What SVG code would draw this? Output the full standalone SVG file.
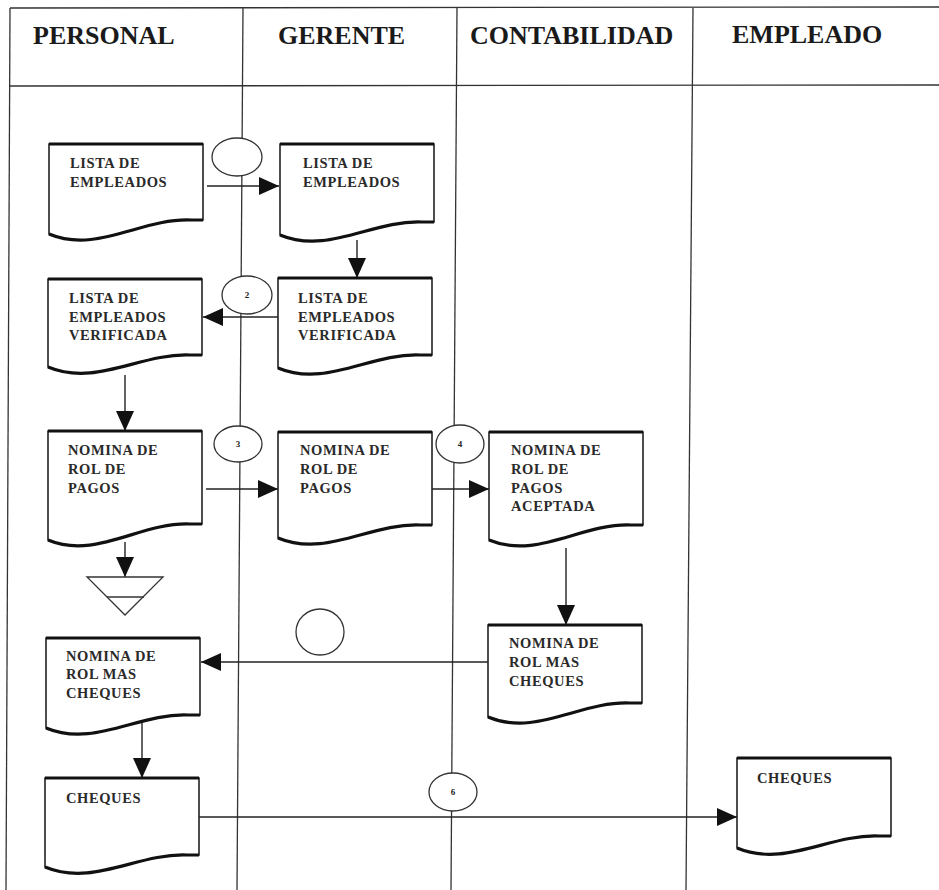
<svg xmlns="http://www.w3.org/2000/svg" width="939" height="890" viewBox="0 0 939 890">
<style>
.lane{stroke:#333;stroke-width:1.3;fill:none}
.hdr{font-family:"Liberation Serif","Times New Roman",serif;font-weight:bold;font-size:26px;fill:#1a1a1a}
.doc{fill:#fff;stroke:#222;stroke-width:1.6}
.docb{fill:none;stroke:#111;stroke-width:3.2}
.t{font-family:"Liberation Serif","Times New Roman",serif;font-weight:bold;font-size:14.5px;letter-spacing:0.6px;fill:#2a2a2a}
.con{fill:#fff;stroke:#333;stroke-width:1.3}
.num{font-family:"Liberation Serif","Times New Roman",serif;font-weight:bold;font-size:9px;fill:#222;text-anchor:middle}
.arr{stroke:#222;stroke-width:1.4;fill:none;marker-end:url(#ah)}
.tri{fill:#fff;stroke:#333;stroke-width:1.3}
</style>
<defs>
<marker id="ah" markerUnits="userSpaceOnUse" markerWidth="20" markerHeight="18" refX="20" refY="9" orient="auto">
<path d="M0,0 L20,9 L0,18 Z" fill="#111"/>
</marker>
</defs>
<rect width="939" height="890" fill="#fff"/>
<g id="lanes">
<line class="lane" x1="10" y1="8" x2="939" y2="7"/>
<line class="lane" x1="10" y1="86" x2="939" y2="85"/>
<line class="lane" x1="10" y1="8" x2="6" y2="890"/>
<line class="lane" x1="243" y1="8" x2="237" y2="890"/>
<line class="lane" x1="457" y1="8" x2="451" y2="890"/>
<line class="lane" x1="693" y1="8" x2="686" y2="890"/>
<text class="hdr" x="33" y="44">PERSONAL</text>
<text class="hdr" x="278" y="44">GERENTE</text>
<text class="hdr" x="470" y="44">CONTABILIDAD</text>
<text class="hdr" x="732" y="43">EMPLEADO</text>
</g>
<g id="connectors">
<line class="arr" x1="207" y1="186" x2="279" y2="186"/>
<line class="arr" x1="357" y1="240" x2="357" y2="278"/>
<line class="arr" x1="280" y1="317" x2="203" y2="317"/>
<line class="arr" x1="125" y1="375" x2="125" y2="431"/>
<line class="arr" x1="206" y1="489" x2="278" y2="489"/>
<line class="arr" x1="430" y1="489" x2="489" y2="489"/>
<line class="arr" x1="125" y1="542" x2="125" y2="577"/>
<line class="arr" x1="566" y1="548" x2="566" y2="625"/>
<line class="arr" x1="488" y1="662" x2="201" y2="662"/>
<line class="arr" x1="142" y1="722" x2="142" y2="778"/>
<line class="arr" x1="199" y1="817" x2="737" y2="817"/>
</g>
<g id="c1"><ellipse class="con" cx="237" cy="157" rx="25" ry="19"/></g>
<g id="c2"><ellipse class="con" cx="247" cy="295" rx="25" ry="19"/><text class="num" x="247" y="298">2</text></g>
<g id="c3"><ellipse class="con" cx="238" cy="444" rx="24" ry="18"/><text class="num" x="238" y="447">3</text></g>
<g id="c4"><ellipse class="con" cx="460" cy="444" rx="24" ry="19"/><text class="num" x="460" y="447">4</text></g>
<g id="c5"><ellipse class="con" cx="320" cy="632" rx="24" ry="23"/></g>
<g id="c6"><ellipse class="con" cx="453" cy="792" rx="24" ry="19"/><text class="num" x="453" y="795">6</text></g>
<g id="p_lista">
<path class="doc" d="M49,144 H203 V220 H191 C141,218 97,254 49,234 Z"/>
<path class="docb" d="M49,144 H203 M49,234 C97,254 141,218 191,220 H203"/>
<text class="t" x="70" y="168">LISTA DE</text>
<text class="t" x="70" y="187">EMPLEADOS</text>
</g>
<g id="g_lista">
<path class="doc" d="M280,144 H434 V222 H422 C372,220 328,255 280,235 Z"/>
<path class="docb" d="M280,144 H434 M280,235 C328,255 372,220 422,222 H434"/>
<text class="t" x="303" y="168">LISTA DE</text>
<text class="t" x="303" y="187">EMPLEADOS</text>
</g>
<g id="p_verif">
<path class="doc" d="M48,279 H202 V355 H190 C140,353 96,387 48,367 Z"/>
<path class="docb" d="M48,279 H202 M48,367 C96,387 140,353 190,355 H202"/>
<text class="t" x="69" y="303">LISTA DE</text>
<text class="t" x="69" y="322">EMPLEADOS</text>
<text class="t" x="69" y="340">VERIFICADA</text>
</g>
<g id="g_verif">
<path class="doc" d="M278,278 H432 V355 H420 C370,353 326,388 278,368 Z"/>
<path class="docb" d="M278,278 H432 M278,368 C326,388 370,353 420,355 H432"/>
<text class="t" x="298" y="303">LISTA DE</text>
<text class="t" x="298" y="322">EMPLEADOS</text>
<text class="t" x="298" y="340">VERIFICADA</text>
</g>
<g id="p_nomina">
<path class="doc" d="M48,431 H202 V524 H190 C140,522 96,560 48,540 Z"/>
<path class="docb" d="M48,431 H202 M48,540 C96,560 140,522 190,524 H202"/>
<text class="t" x="68" y="455">NOMINA DE</text>
<text class="t" x="68" y="474">ROL DE</text>
<text class="t" x="68" y="493">PAGOS</text>
</g>
<g id="archivo">
<polygon class="tri" points="87,577 163,577 125,615"/>
<line class="lane" x1="107" y1="597" x2="144" y2="597"/>
</g>
<g id="g_nomina">
<path class="doc" d="M278,432 H432 V525 H420 C370,523 326,558 278,538 Z"/>
<path class="docb" d="M278,432 H432 M278,538 C326,558 370,523 420,525 H432"/>
<text class="t" x="300" y="455">NOMINA DE</text>
<text class="t" x="300" y="474">ROL DE</text>
<text class="t" x="300" y="493">PAGOS</text>
</g>
<g id="c_aceptada">
<path class="doc" d="M489,432 H643 V525 H631 C581,523 537,560 489,540 Z"/>
<path class="docb" d="M489,432 H643 M489,540 C537,560 581,523 631,525 H643"/>
<text class="t" x="511" y="455">NOMINA DE</text>
<text class="t" x="511" y="474">ROL DE</text>
<text class="t" x="511" y="493">PAGOS</text>
<text class="t" x="511" y="511">ACEPTADA</text>
</g>
<g id="c_mas">
<path class="doc" d="M488,625 H642 V703 H630 C580,701 536,737 488,717 Z"/>
<path class="docb" d="M488,625 H642 M488,717 C536,737 580,701 630,703 H642"/>
<text class="t" x="509" y="648">NOMINA DE</text>
<text class="t" x="509" y="667">ROL MAS</text>
<text class="t" x="509" y="686">CHEQUES</text>
</g>
<g id="p_mas">
<path class="doc" d="M46,638 H200 V715 H188 C138,713 94,748 46,728 Z"/>
<path class="docb" d="M46,638 H200 M46,728 C94,748 138,713 188,715 H200"/>
<text class="t" x="66" y="661">NOMINA DE</text>
<text class="t" x="66" y="679">ROL MAS</text>
<text class="t" x="66" y="698">CHEQUES</text>
</g>
<g id="p_cheques">
<path class="doc" d="M45,778 H199 V855 H187 C137,853 93,887 45,867 Z"/>
<path class="docb" d="M45,778 H199 M45,867 C93,887 137,853 187,855 H199"/>
<text class="t" x="66" y="803">CHEQUES</text>
</g>
<g id="e_cheques">
<path class="doc" d="M737,758 H891 V836 H879 C829,834 785,868 737,848 Z"/>
<path class="docb" d="M737,758 H891 M737,848 C785,868 829,834 879,836 H891"/>
<text class="t" x="757" y="783">CHEQUES</text>
</g>
</svg>
